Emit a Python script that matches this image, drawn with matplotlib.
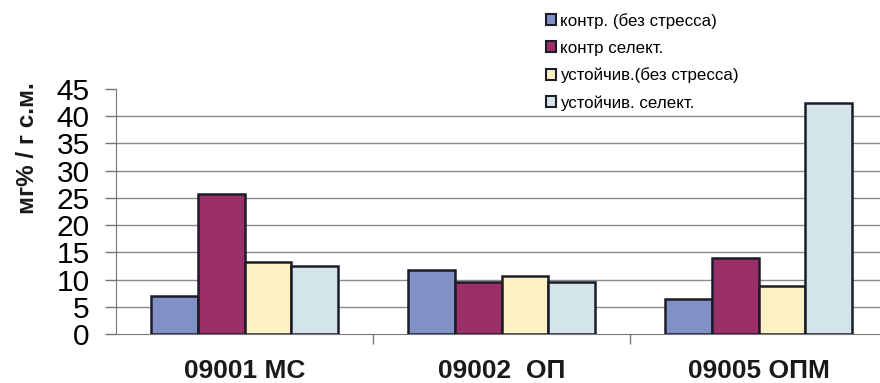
import numpy as np
import matplotlib.pyplot as plt
from matplotlib import font_manager

# samples and series
lines = ["09001 МС", "09002  ОП", "09005 ОПМ"]
series = ["контр. (без стресса)", "контр селект.",
          "устойчив.(без стресса)", "устойчив. селект."]
kontr_bez = [7.0, 11.7, 6.4]
kontr_sel = [25.8, 9.5, 13.9]
ust_bez = [13.2, 10.6, 8.8]
ust_sel = [12.5, 9.6, 42.4]
values = [kontr_bez, kontr_sel, ust_bez, ust_sel]

colors = ["#8191c5", "#9b3068", "#fcf0c5", "#d4e5e9"]
edge = "#1c1c28"

names = {f.name for f in font_manager.fontManager.ttflist}
base = "Liberation Sans" if "Liberation Sans" in names else "DejaVu Sans"
plt.rcParams['font.family'] = [base, 'DejaVu Sans']

fig = plt.figure(figsize=(8.8, 3.83), dpi=100)
# axes runs a little past the right edge of the figure
ax = fig.add_axes([116 / 880, 49 / 383, 771 / 880, 245 / 383])

x = np.arange(len(lines))
w = 0.182
for i, (vals, c, lab) in enumerate(zip(values, colors, series)):
    ax.bar(x + (i - 1.5) * w, vals, w, color=c, edgecolor=edge,
           linewidth=1.8, label=lab, zorder=3)

ax.set_xlim(-0.5, 2.5)
ax.set_ylim(0, 45)
ax.set_yticks(np.arange(0, 46, 5))
for yv in range(5, 41, 5):
    ax.axhline(yv, color="#8a8a8a", lw=1.0, zorder=1)

ax.set_xticks([0.5, 1.5])
ax.set_xticklabels(["", ""])
ax.tick_params(axis="x", length=7, color="#777777", width=1)
ax.tick_params(axis="y", length=8, color="#777777", width=1, pad=11,
               labelsize=21.5)
for sp in ["top", "right"]:
    ax.spines[sp].set_visible(False)
ax.spines["left"].set_color("#777777")
ax.spines["bottom"].set_color("#777777")

for xi, name in zip(x, lines):
    ax.text(xi, -44 / 245, name, transform=ax.get_xaxis_transform(),
            ha="center", va="baseline", fontsize=19, fontweight="bold",
            color="#1a1a1a")

fig.text(27 / 880, 1 - 148 / 383, "мг% / г с.м.", rotation=90,
         ha="center", va="center", fontsize=17.5, fontweight="bold",
         color="#1a1a1a")

leg = fig.legend(loc="upper left", bbox_to_anchor=(546 / 880, 1 - 13 / 383),
                 frameon=False, fontsize=12.2, handlelength=0.6,
                 handleheight=0.6, handletextpad=0.2, labelspacing=0.7,
                 borderpad=0, borderaxespad=0)
for h in leg.legend_handles:
    h.set_linewidth(1.5)

fig.savefig("out.png", dpi=100, facecolor="white")
